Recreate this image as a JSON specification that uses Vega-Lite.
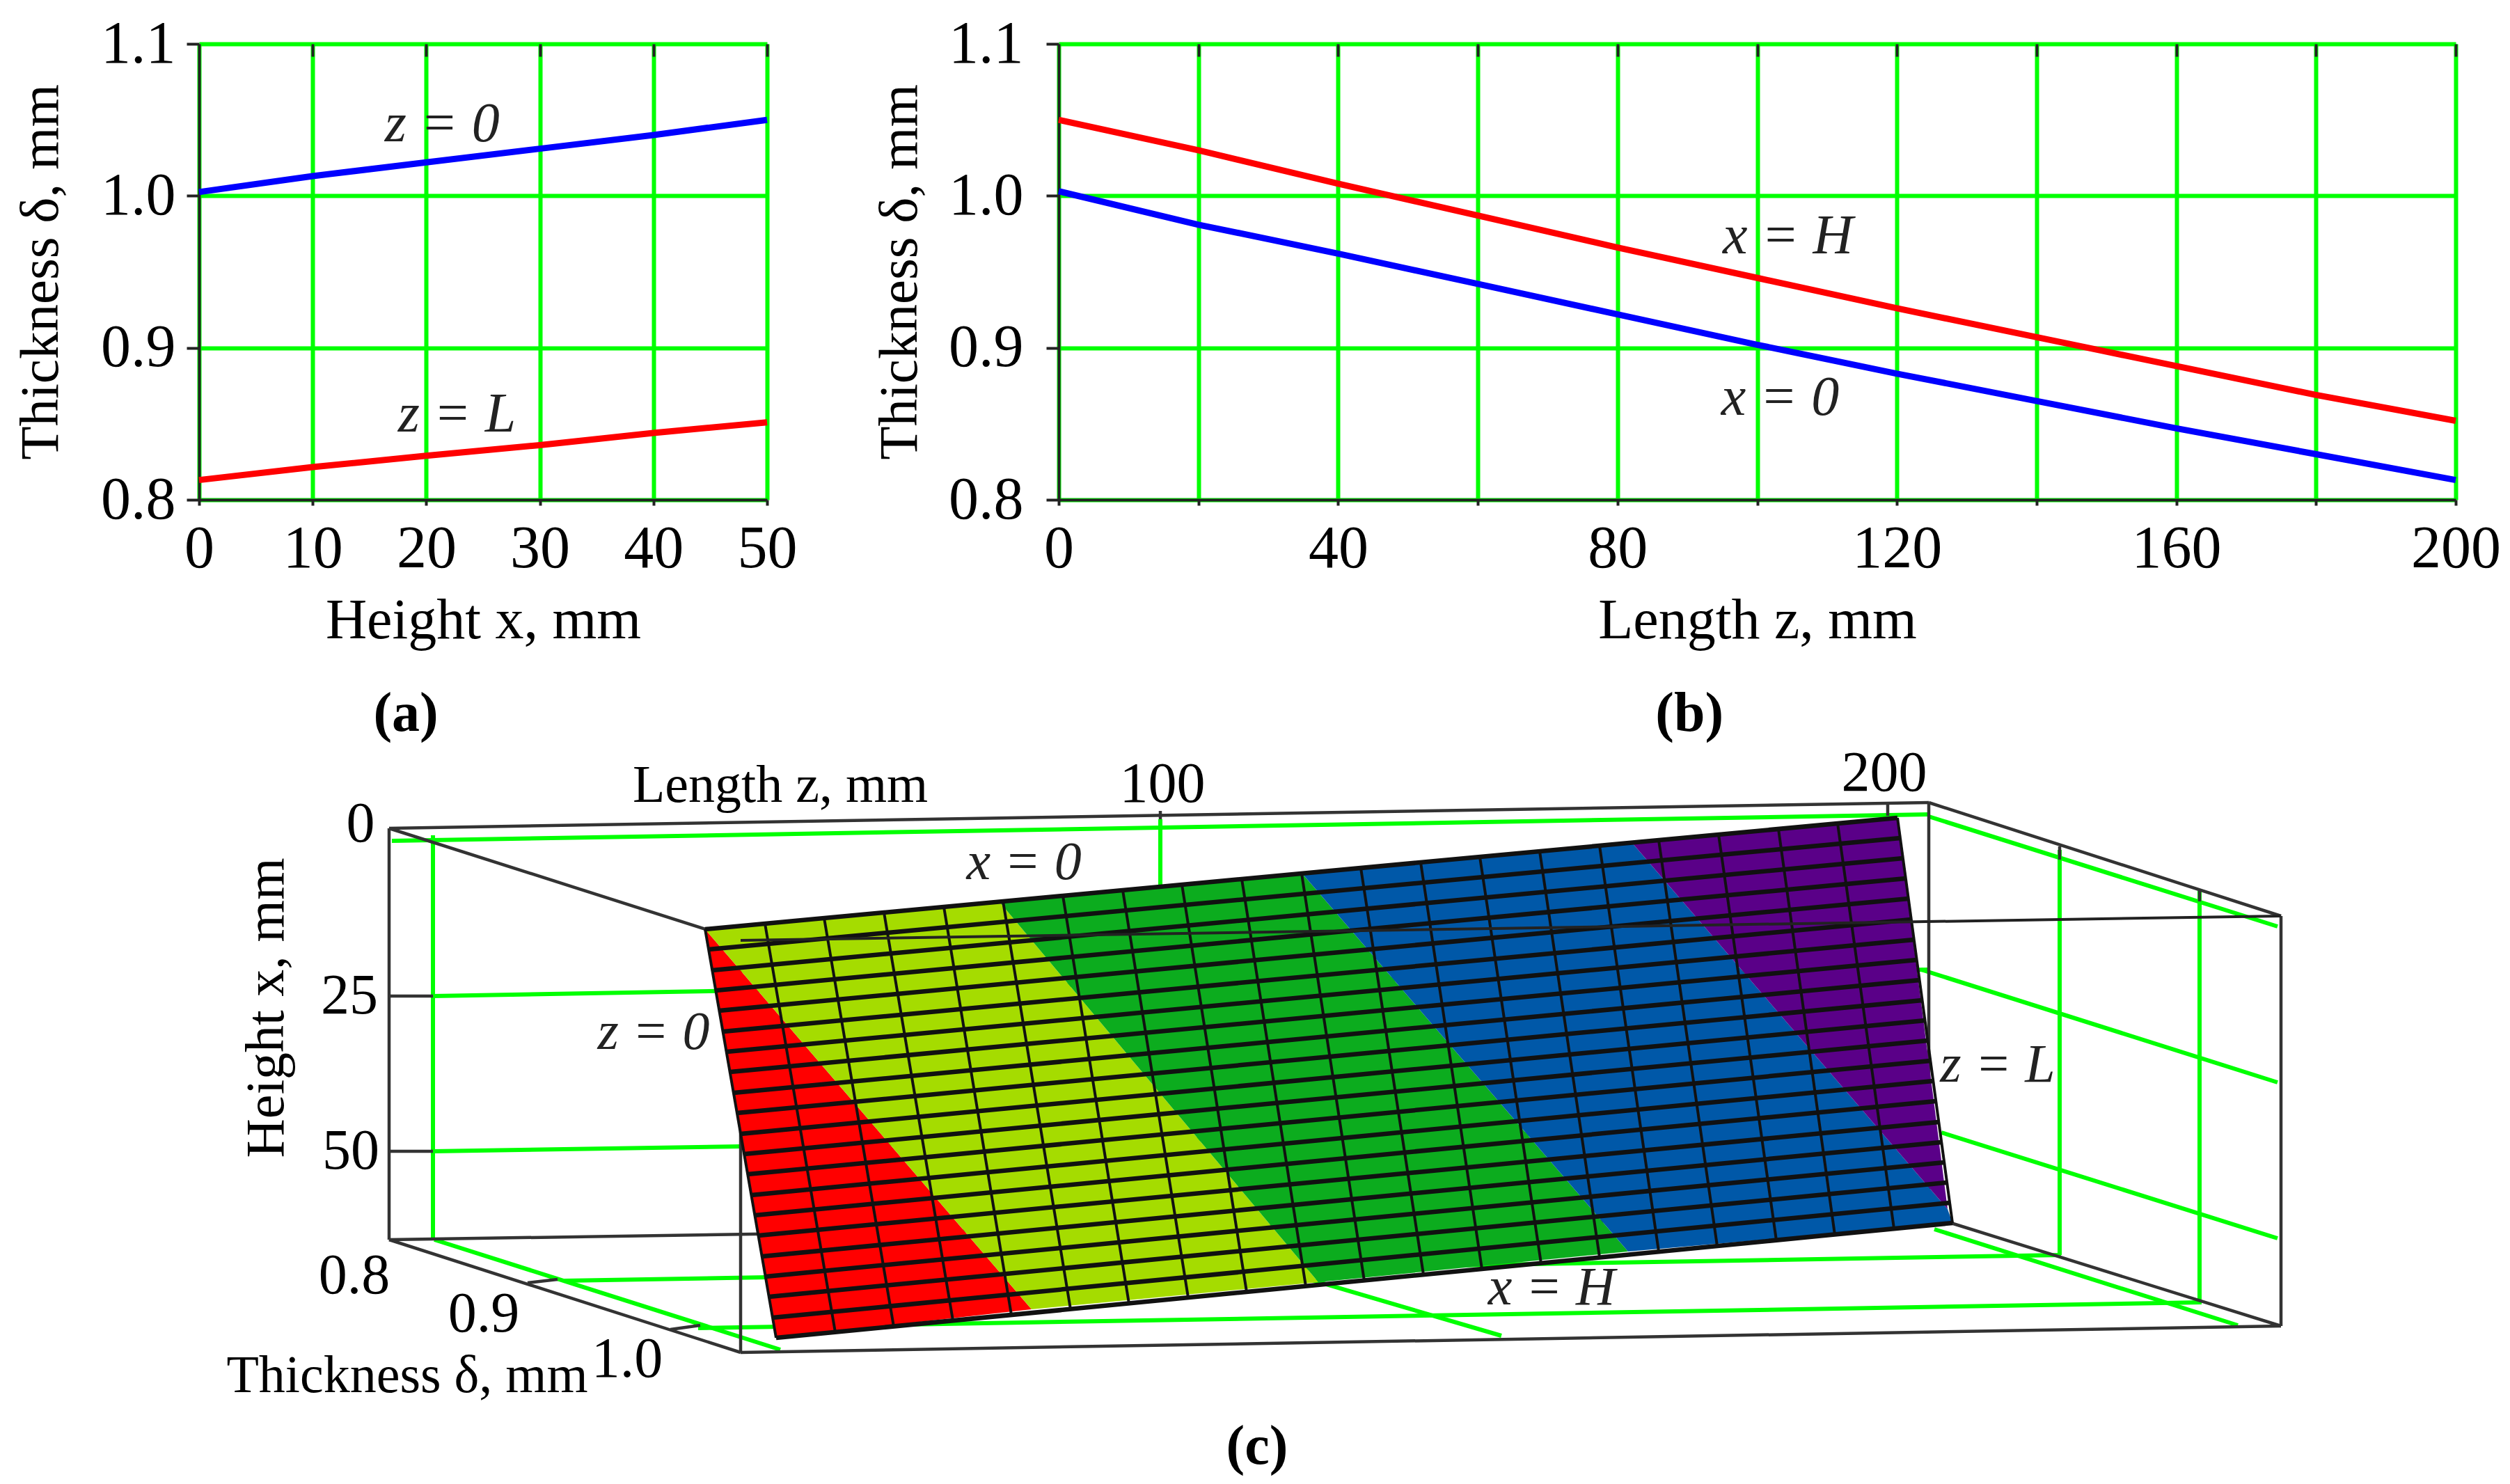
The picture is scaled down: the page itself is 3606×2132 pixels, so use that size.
{"$schema":"https://vega.github.io/schema/vega-lite/v6.json","background":"white","padding":{"left":19,"top":20,"right":0,"bottom":0},"bounds":"flush","spacing":1017,
"config":{"view":{"stroke":null},"axis":{"labelFont":"Liberation Serif","titleFont":"Liberation Serif","labelFontSize":86,"titleFontSize":79,"titleFontWeight":"normal","labelColor":"#000","titleColor":"#000","domainColor":"#222","domainWidth":4,"tickColor":"#222","tickWidth":4,"gridColor":"#00ff00","gridWidth":6,"gridOpacity":1,"labelOverlap":false,"labelFlush":false},"text":{"font":"Liberation Serif"}},
"datasets":{
"a":[{"x":0,"t":1.0025,"s":"z = 0"},{"x":10,"t":1.013,"s":"z = 0"},{"x":20,"t":1.022,"s":"z = 0"},{"x":30,"t":1.031,"s":"z = 0"},{"x":40,"t":1.04,"s":"z = 0"},{"x":50,"t":1.05,"s":"z = 0"},{"x":0,"t":0.813,"s":"z = L"},{"x":10,"t":0.8215,"s":"z = L"},{"x":20,"t":0.829,"s":"z = L"},{"x":30,"t":0.836,"s":"z = L"},{"x":40,"t":0.844,"s":"z = L"},{"x":50,"t":0.851,"s":"z = L"}],
"b":[{"z":0,"t":1.003,"s":"x = 0"},{"z":20,"t":0.981,"s":"x = 0"},{"z":40,"t":0.962,"s":"x = 0"},{"z":60,"t":0.942,"s":"x = 0"},{"z":80,"t":0.922,"s":"x = 0"},{"z":100,"t":0.902,"s":"x = 0"},{"z":120,"t":0.883,"s":"x = 0"},{"z":140,"t":0.865,"s":"x = 0"},{"z":160,"t":0.847,"s":"x = 0"},{"z":180,"t":0.83,"s":"x = 0"},{"z":200,"t":0.813,"s":"x = 0"},{"z":0,"t":1.05,"s":"x = H"},{"z":20,"t":1.03,"s":"x = H"},{"z":40,"t":1.008,"s":"x = H"},{"z":60,"t":0.987,"s":"x = H"},{"z":80,"t":0.966,"s":"x = H"},{"z":100,"t":0.946,"s":"x = H"},{"z":120,"t":0.926,"s":"x = H"},{"z":140,"t":0.907,"s":"x = H"},{"z":160,"t":0.888,"s":"x = H"},{"z":180,"t":0.869,"s":"x = H"},{"z":200,"t":0.852,"s":"x = H"}],
"bands":[{"b":"1","k":0,"u":1010,"v":1335},{"b":"1","k":1,"u":1479,"v":1881},{"b":"1","k":2,"u":1112,"v":1922},{"b":"1","k":3,"u":1010,"v":1335},
{"b":"2","k":0,"u":1010,"v":1335},{"b":"2","k":1,"u":1434,"v":1297},{"b":"2","k":2,"u":1891,"v":1842},{"b":"2","k":3,"u":1479,"v":1881},{"b":"2","k":4,"u":1010,"v":1335},
{"b":"3","k":0,"u":1434,"v":1297},{"b":"3","k":1,"u":1867,"v":1254},{"b":"3","k":2,"u":2336,"v":1798},{"b":"3","k":3,"u":1891,"v":1842},{"b":"3","k":4,"u":1434,"v":1297},
{"b":"4","k":0,"u":1867,"v":1254},{"b":"4","k":1,"u":2341,"v":1210},{"b":"4","k":2,"u":2795,"v":1737},{"b":"4","k":3,"u":2802,"v":1757},{"b":"4","k":4,"u":2336,"v":1798},{"b":"4","k":5,"u":1867,"v":1254},
{"b":"5","k":0,"u":2341,"v":1210},{"b":"5","k":1,"u":2723,"v":1175},{"b":"5","k":2,"u":2795,"v":1737},{"b":"5","k":3,"u":2341,"v":1210}],
"green":[{"u":560,"v":1208,"u2":2768,"v2":1170},{"u":619,"v":1200,"u2":619,"v2":1782},{"u":1664,"v":1177,"u2":1664,"v2":1400},{"u":619,"v":1431,"u2":2768,"v2":1393},{"u":619,"v":1654,"u2":2768,"v2":1620},{"u":621,"v":1781,"u2":1118,"v2":1939},{"u":807,"v":1840,"u2":2958,"v2":1803},{"u":1000,"v":1908,"u2":3160,"v2":1871},{"u":1664,"v":1775,"u2":2154,"v2":1919},{"u":2776,"v":1766,"u2":3212,"v2":1904},{"u":2956,"v":1221,"u2":2956,"v2":1803},{"u":3157,"v":1280,"u2":3157,"v2":1867},{"u":2768,"v":1173,"u2":3269,"v2":1331},{"u":2757,"v":1393,"u2":3269,"v2":1555},{"u":2786,"v":1627,"u2":3269,"v2":1779}],
"backbox":[{"u":556,"v":1190,"u2":2768,"v2":1153},{"u":556,"v":1190,"u2":556,"v2":1781},{"u":556,"v":1781,"u2":2768,"v2":1747},{"u":2768,"v":1153,"u2":2768,"v2":1747},{"u":556,"v":1190,"u2":1061,"v2":1351},{"u":2768,"v":1153,"u2":3274,"v2":1316},{"u":556,"v":1781,"u2":1061,"v2":1943},{"u":2800,"v":1757,"u2":3274,"v2":1905},{"u":556,"v":1431,"u2":619,"v2":1431},{"u":556,"v":1654,"u2":619,"v2":1654},{"u":1664,"v":1165,"u2":1664,"v2":1177},{"u":2709,"v":1155,"u2":2709,"v2":1172},{"u":2956,"v":1216,"u2":2956,"v2":1235},{"u":3157,"v":1278,"u2":3157,"v2":1295},{"u":755,"v":1843,"u2":798,"v2":1838},{"u":960,"v":1910,"u2":1003,"v2":1904},{"u":1061,"v":1943,"u2":3274,"v2":1905},{"u":3274,"v":1316,"u2":3274,"v2":1905},{"u":1061,"v":1351,"u2":1061,"v2":1943}],
"frontbox":[{"u":1061,"v":1351,"u2":3274,"v2":1316}],
"meshz":[{"u":1010,"v":1335,"u2":1112,"v2":1922},{"u":1096,"v":1327,"u2":1197,"v2":1914},{"u":1181,"v":1319,"u2":1281,"v2":1906},{"u":1267,"v":1311,"u2":1366,"v2":1897},{"u":1353,"v":1303,"u2":1450,"v2":1889},{"u":1438,"v":1295,"u2":1535,"v2":1881},{"u":1524,"v":1287,"u2":1619,"v2":1873},{"u":1610,"v":1279,"u2":1704,"v2":1864},{"u":1695,"v":1271,"u2":1788,"v2":1856},{"u":1781,"v":1263,"u2":1873,"v2":1848},{"u":1867,"v":1255,"u2":1957,"v2":1840},{"u":1952,"v":1247,"u2":2042,"v2":1831},{"u":2038,"v":1239,"u2":2126,"v2":1823},{"u":2123,"v":1231,"u2":2211,"v2":1815},{"u":2209,"v":1223,"u2":2295,"v2":1806},{"u":2295,"v":1215,"u2":2380,"v2":1798},{"u":2380,"v":1207,"u2":2464,"v2":1790},{"u":2466,"v":1199,"u2":2549,"v2":1782},{"u":2552,"v":1191,"u2":2633,"v2":1774},{"u":2637,"v":1183,"u2":2718,"v2":1765},{"u":2723,"v":1175,"u2":2802,"v2":1757}],
"meshx":[{"u":1010,"v":1335,"u2":2723,"v2":1175},{"u":1015,"v":1364,"u2":2727,"v2":1204},{"u":1020,"v":1394,"u2":2731,"v2":1233},{"u":1025,"v":1423,"u2":2735,"v2":1262},{"u":1030,"v":1452,"u2":2739,"v2":1291},{"u":1036,"v":1482,"u2":2743,"v2":1321},{"u":1041,"v":1511,"u2":2747,"v2":1350},{"u":1046,"v":1540,"u2":2751,"v2":1379},{"u":1051,"v":1570,"u2":2755,"v2":1408},{"u":1056,"v":1599,"u2":2759,"v2":1437},{"u":1061,"v":1629,"u2":2763,"v2":1466},{"u":1066,"v":1658,"u2":2766,"v2":1495},{"u":1071,"v":1687,"u2":2770,"v2":1524},{"u":1076,"v":1717,"u2":2774,"v2":1553},{"u":1081,"v":1746,"u2":2778,"v2":1582},{"u":1087,"v":1775,"u2":2782,"v2":1612},{"u":1092,"v":1805,"u2":2786,"v2":1641},{"u":1097,"v":1834,"u2":2790,"v2":1670},{"u":1102,"v":1863,"u2":2794,"v2":1699},{"u":1107,"v":1893,"u2":2798,"v2":1728},{"u":1112,"v":1922,"u2":2802,"v2":1757}],
"ctitles":[{"l":"Length z, mm","u":1118,"v":1129},{"l":"Thickness δ, mm","u":582,"v":1977}],
"cticks":[{"l":"100","u":1667,"v":1127},{"l":"200","u":2704,"v":1111},{"l":"0","u":515,"v":1184},{"l":"25","u":499,"v":1431},{"l":"50","u":501,"v":1654},{"l":"0.8","u":506,"v":1833},{"l":"0.9","u":692,"v":1888},{"l":"1.0","u":898,"v":1953}],
"cnote":[{"l":"x = 0","u":1468,"v":1240},{"l":"z = 0","u":936,"v":1484},{"l":"z = L","u":2867,"v":1531},{"l":"x = H","u":2226,"v":1851}]
},
"vconcat":[
{"bounds":"flush","spacing":419,"hconcat":[
{"width":816,"height":655,"resolve":{"axis":{"x":"independent"}},
"layer":[
{"data":{"name":"a"},"mark":{"type":"line","strokeWidth":9},"encoding":{"x":{"field":"x","type":"quantitative","scale":{"domain":[0,50],"nice":false},"axis":{"values":[0,10,20,30,40,50],"grid":true,"title":"Height x, mm","titleFontSize":82,"tickSize":8,"labelPadding":20,"titlePadding":20}},"y":{"field":"t","type":"quantitative","scale":{"domain":[0.8,1.1],"nice":false,"zero":false},"axis":{"values":[0.8,0.9,1.0,1.1],"format":".1f","grid":true,"title":"Thickness δ, mm","tickSize":18,"labelPadding":16,"titlePadding":45}},"color":{"field":"s","type":"nominal","scale":{"domain":["z = 0","z = L"],"range":["#0000ff","#ff0000"]},"legend":null}}},
{"data":{"values":[{"l":"z = 0","x":21.4,"t":1.047},{"l":"z = L","x":22.7,"t":0.856}]},"mark":{"type":"text","fontSize":80,"fontStyle":"italic","baseline":"middle","align":"center","color":"#222"},"encoding":{"x":{"field":"x","type":"quantitative","axis":{"values":[10,20,30,40,50],"labels":false,"domain":false,"grid":false,"title":null,"tickSize":-18}},"y":{"field":"t","type":"quantitative"},"text":{"field":"l"}}},
{"data":{"values":[{"l":"(a)","x":18.2,"t":0.659}]},"mark":{"type":"text","fontSize":80,"fontWeight":"bold","baseline":"middle","align":"center","color":"#000"},"encoding":{"x":{"field":"x","type":"quantitative","axis":null},"y":{"field":"t","type":"quantitative"},"text":{"field":"l"}}}
]},
{"width":2007,"height":655,"resolve":{"axis":{"x":"independent"}},
"layer":[
{"data":{"name":"b"},"mark":{"type":"line","strokeWidth":9},"encoding":{"x":{"field":"z","type":"quantitative","scale":{"domain":[0,200],"nice":false},"axis":{"values":[0,20,40,60,80,100,120,140,160,180,200],"labelExpr":"datum.value % 40 === 0 ? datum.label : ''","grid":true,"title":"Length z, mm","titleFontSize":82,"tickSize":8,"labelPadding":20,"titlePadding":20}},"y":{"field":"t","type":"quantitative","scale":{"domain":[0.8,1.1],"nice":false,"zero":false},"axis":{"values":[0.8,0.9,1.0,1.1],"format":".1f","grid":true,"title":"Thickness δ, mm","tickSize":18,"labelPadding":33,"titlePadding":29}},"color":{"field":"s","type":"nominal","scale":{"domain":["x = 0","x = H"],"range":["#0000ff","#ff0000"]},"legend":null}}},
{"data":{"values":[{"l":"x = H","z":104.4,"t":0.973},{"l":"x = 0","z":103.3,"t":0.867}]},"mark":{"type":"text","fontSize":80,"fontStyle":"italic","baseline":"middle","align":"center","color":"#222"},"encoding":{"x":{"field":"z","type":"quantitative","axis":{"values":[20,40,60,80,100,120,140,160,180,200],"labels":false,"domain":false,"grid":false,"title":null,"tickSize":-18}},"y":{"field":"t","type":"quantitative"},"text":{"field":"l"}}},
{"data":{"values":[{"l":"(b)","z":90.3,"t":0.659}]},"mark":{"type":"text","fontSize":80,"fontWeight":"bold","baseline":"middle","align":"center","color":"#000"},"encoding":{"x":{"field":"z","type":"quantitative","axis":null},"y":{"field":"t","type":"quantitative"},"text":{"field":"l"}}}
]}
]},
{"width":3323,"height":1052,
"encoding":{"x":{"field":"u","type":"quantitative","scale":{"domain":[283,3606],"nice":false,"zero":false},"axis":null},"y":{"field":"v","type":"quantitative","scale":{"domain":[2132,1080],"nice":false,"zero":false},"axis":null},"x2":{"field":"u2"},"y2":{"field":"v2"}},
"layer":[
{"data":{"name":"green"},"mark":{"type":"rule","color":"#00ff00","strokeWidth":6}},
{"data":{"name":"backbox"},"mark":{"type":"rule","color":"#333333","strokeWidth":4.5}},
{"data":{"name":"bands"},"mark":{"type":"line","stroke":null,"strokeWidth":0},"encoding":{"x2":null,"y2":null,"order":{"field":"k","type":"ordinal"},"fill":{"field":"b","type":"nominal","scale":{"domain":["1","2","3","4","5"],"range":["#ff0000","#a5dc00","#0cac1e","#0058a8","#5a0088"]},"legend":null}}},
{"data":{"name":"meshz"},"mark":{"type":"rule","color":"#111111","strokeWidth":4}},
{"data":{"name":"meshx"},"mark":{"type":"rule","color":"#111111","strokeWidth":6.5}},
{"data":{"name":"frontbox"},"mark":{"type":"rule","color":"#222222","strokeWidth":4}},
{"data":{"name":"ctitles"},"mark":{"type":"text","fontSize":76,"baseline":"middle","align":"center","color":"#000"},"encoding":{"x2":null,"y2":null,"text":{"field":"l"}}},
{"data":{"name":"cticks"},"mark":{"type":"text","fontSize":82,"baseline":"middle","align":"center","color":"#000"},"encoding":{"x2":null,"y2":null,"text":{"field":"l"}}},
{"data":{"name":"cnote"},"mark":{"type":"text","fontSize":78,"fontStyle":"italic","baseline":"middle","align":"center","color":"#222"},"encoding":{"x2":null,"y2":null,"text":{"field":"l"}}},
{"data":{"values":[{"l":"Height x, mm","u":381,"v":1448}]},"mark":{"type":"text","fontSize":78,"angle":270,"baseline":"middle","align":"center","color":"#000"},"encoding":{"x2":null,"y2":null,"text":{"field":"l"}}},
{"data":{"values":[{"l":"(c)","u":1803,"v":2079}]},"mark":{"type":"text","fontSize":80,"fontWeight":"bold","baseline":"middle","align":"center","color":"#000"},"encoding":{"x2":null,"y2":null,"text":{"field":"l"}}}
]}
]}
